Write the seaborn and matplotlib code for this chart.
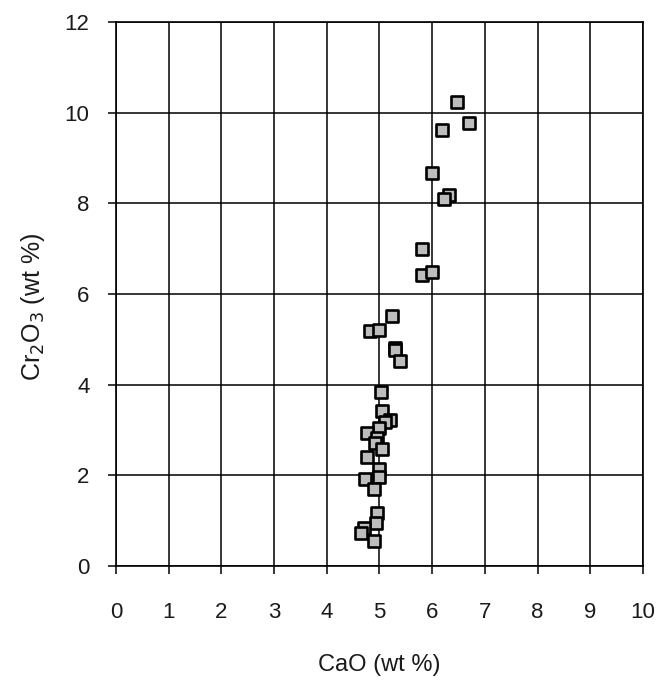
import matplotlib
matplotlib.use("Agg")
import matplotlib.pyplot as plt
import seaborn as sns
import pandas as pd

# CaO and Cr2O3 contents (wt %)
cao = [6.48, 6.70, 6.18, 6.00, 6.31, 6.22, 5.81, 5.80, 6.00,
       5.24, 4.82, 4.99, 5.30, 5.29, 5.39,
       5.03, 5.05, 5.20, 5.10, 4.99, 4.77, 4.95, 4.92, 5.04, 4.77,
       5.00, 5.00, 4.72, 4.90, 4.95, 4.93, 4.70, 4.65, 4.90]
cr2o3 = [10.24, 9.78, 9.61, 8.66, 8.18, 8.09, 6.99, 6.42, 6.48,
         5.51, 5.19, 5.21, 4.82, 4.76, 4.53,
         3.83, 3.43, 3.22, 3.18, 3.04, 2.94, 2.82, 2.71, 2.59, 2.41,
         2.13, 1.97, 1.91, 1.71, 1.16, 0.96, 0.83, 0.73, 0.56]

x_ticks = list(range(0, 11))
y_ticks = list(range(0, 13, 2))

df = pd.DataFrame({"CaO": cao, "Cr2O3": cr2o3})

sns.set_theme(style="ticks")
plt.rcParams["font.family"] = ["Liberation Sans", "DejaVu Sans"]

fig = plt.figure(figsize=(6.69, 6.80), dpi=100)
ax = fig.add_axes([0.1734, 0.1676, 0.7877, 0.8000])

ax.set_axisbelow(True)
for v in x_ticks:
    ax.axvline(v, color="black", lw=1.1, zorder=0)
for v in y_ticks:
    ax.axhline(v, color="black", lw=1.1, zorder=0)

sns.scatterplot(data=df, x="CaO", y="Cr2O3", ax=ax, marker="s", s=82,
                color="#bdbdbd", edgecolor="black", linewidth=1.9, zorder=3,
                legend=False)

ax.set_xlim(0, 10)
ax.set_ylim(0, 12)
ax.set_xticks(x_ticks)
ax.set_yticks(y_ticks)
ax.tick_params(axis="both", direction="out", length=6, width=1.1,
               color="black", labelsize=16, labelcolor="#1a1a1a",
               bottom=True, left=True, top=False, right=False)
ax.tick_params(axis="x", pad=20)
ax.tick_params(axis="y", pad=13)
for sp in ax.spines.values():
    sp.set_visible(True)
    sp.set_color("black")
    sp.set_linewidth(1.2)

ax.set_xlabel("CaO (wt %)", fontsize=17, color="#1a1a1a", labelpad=22)
ax.set_ylabel("Cr$_2$O$_3$ (wt %)", fontsize=18, color="#1a1a1a")
ax.yaxis.set_label_coords(-0.13, 0.476)

fig.savefig("out.png", dpi=100, facecolor="white")
